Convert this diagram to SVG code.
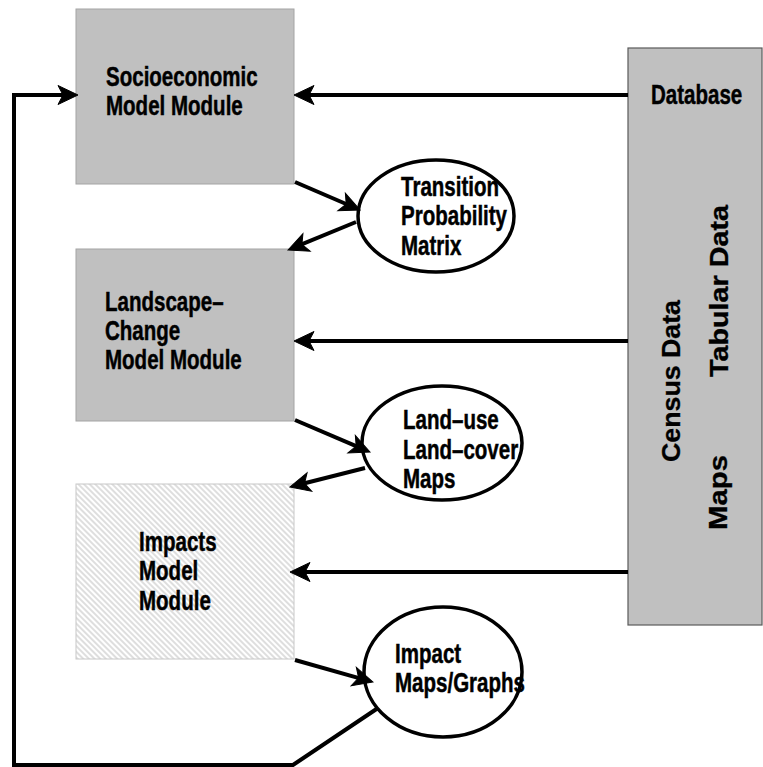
<svg xmlns="http://www.w3.org/2000/svg" width="763" height="767" viewBox="0 0 763 767">
<style>
.box{fill:#c0c0c0;stroke:#a4a4a4;stroke-width:1}
.db{fill:#c0c0c0;stroke:#5a5a5a;stroke-width:1.2}
.hatch{fill:url(#hatch);stroke:#c8c8c8;stroke-width:1}
.ell{fill:#fff;stroke:#000;stroke-width:3.5}
.lbl{font-family:"Liberation Sans",Arial,sans-serif;font-weight:bold;font-size:28.5px;fill:#000;stroke:#000;stroke-width:0.5}
.vlbl{font-family:"Liberation Sans",Arial,sans-serif;font-weight:bold;font-size:25px;fill:#000;stroke:#000;stroke-width:0.3}
.con{fill:none;stroke:#000;stroke-width:4}
.arr{marker-end:url(#ah)}
</style>
<defs>
<marker id="ah" markerUnits="userSpaceOnUse" viewBox="-12 -11 24 22" refX="0" refY="0" markerWidth="24" markerHeight="22" orient="auto" overflow="visible">
<path d="M10,0 L-10,-9.5 L-5,0 L-10,9.5 Z" fill="#000" stroke="#000" stroke-width="1" stroke-linejoin="miter"/>
</marker>
<pattern id="hatch" patternUnits="userSpaceOnUse" width="4" height="4" patternTransform="rotate(-45)">
<rect width="4" height="4" fill="#fff"/>
<line x1="1" y1="0" x2="1" y2="4" stroke="#c4c4c4" stroke-width="1.1"/>
</pattern>
</defs>

<g id="socioeconomic">
<rect class="box" x="76" y="9" width="218" height="175"/>
<text class="lbl" transform="translate(106,86) scale(0.72,1)"><tspan x="0" y="0">Socioeconomic</tspan><tspan x="0" y="29.5">Model Module</tspan></text>
</g>

<g id="landscape">
<rect class="box" x="76" y="249" width="218" height="172"/>
<text class="lbl" transform="translate(105,311) scale(0.72,1)"><tspan x="0" y="0">Landscape–</tspan><tspan x="0" y="29">Change</tspan><tspan x="0" y="58">Model Module</tspan></text>
</g>

<g id="impacts">
<rect class="hatch" x="76" y="484" width="218" height="175"/>
<text class="lbl" transform="translate(139,551) scale(0.72,1)"><tspan x="0" y="0">Impacts</tspan><tspan x="0" y="29.5">Model</tspan><tspan x="0" y="59">Module</tspan></text>
</g>

<g id="database">
<rect class="db" x="628" y="48" width="134" height="577"/>
<text class="lbl" transform="translate(651,104) scale(0.72,1)">Database</text>
<text class="vlbl" transform="translate(728,377) rotate(-90)" textLength="172" lengthAdjust="spacingAndGlyphs">Tabular Data</text>
<text class="vlbl" transform="translate(680,462) rotate(-90)" textLength="162" lengthAdjust="spacingAndGlyphs">Census Data</text>
<text class="vlbl" transform="translate(727,530) rotate(-90)" textLength="75" lengthAdjust="spacingAndGlyphs">Maps</text>
</g>

<g id="transition">
<ellipse class="ell" cx="436" cy="216" rx="78" ry="56"/>
<text class="lbl" transform="translate(401,196) scale(0.72,1)"><tspan x="0" y="0">Transition</tspan><tspan x="0" y="29.5">Probability</tspan><tspan x="0" y="59">Matrix</tspan></text>
</g>

<g id="landuse">
<ellipse class="ell" cx="442" cy="443" rx="80" ry="57"/>
<text class="lbl" transform="translate(403,429) scale(0.72,1)"><tspan x="0" y="0">Land–use</tspan><tspan x="0" y="30">Land–cover</tspan><tspan x="0" y="59">Maps</tspan></text>
</g>

<g id="impactmaps">
<ellipse class="ell" cx="443" cy="672" rx="79" ry="65"/>
<text class="lbl" transform="translate(395,663) scale(0.72,1)"><tspan x="0" y="0">Impact</tspan><tspan x="0" y="29.5">Maps/Graphs</tspan></text>
</g>

<g id="connectors">
<path class="con arr" d="M628,95 L304,95"/>
<path class="con arr" d="M628,341 L304,341"/>
<path class="con arr" d="M628,572 L300,572"/>
<path class="con arr" d="M295,182 L350.8,206"/>
<path class="con arr" d="M356,222 L297.3,246.2"/>
<path class="con arr" d="M295,420 L360.8,448.1"/>
<path class="con arr" d="M365,468 L299.7,484.5"/>
<path class="con arr" d="M295,660 L363.4,679.3"/>
<path class="con arr" d="M378,708 L293,765 L14,765 L14,95 L68,95"/>
</g>
</svg>
